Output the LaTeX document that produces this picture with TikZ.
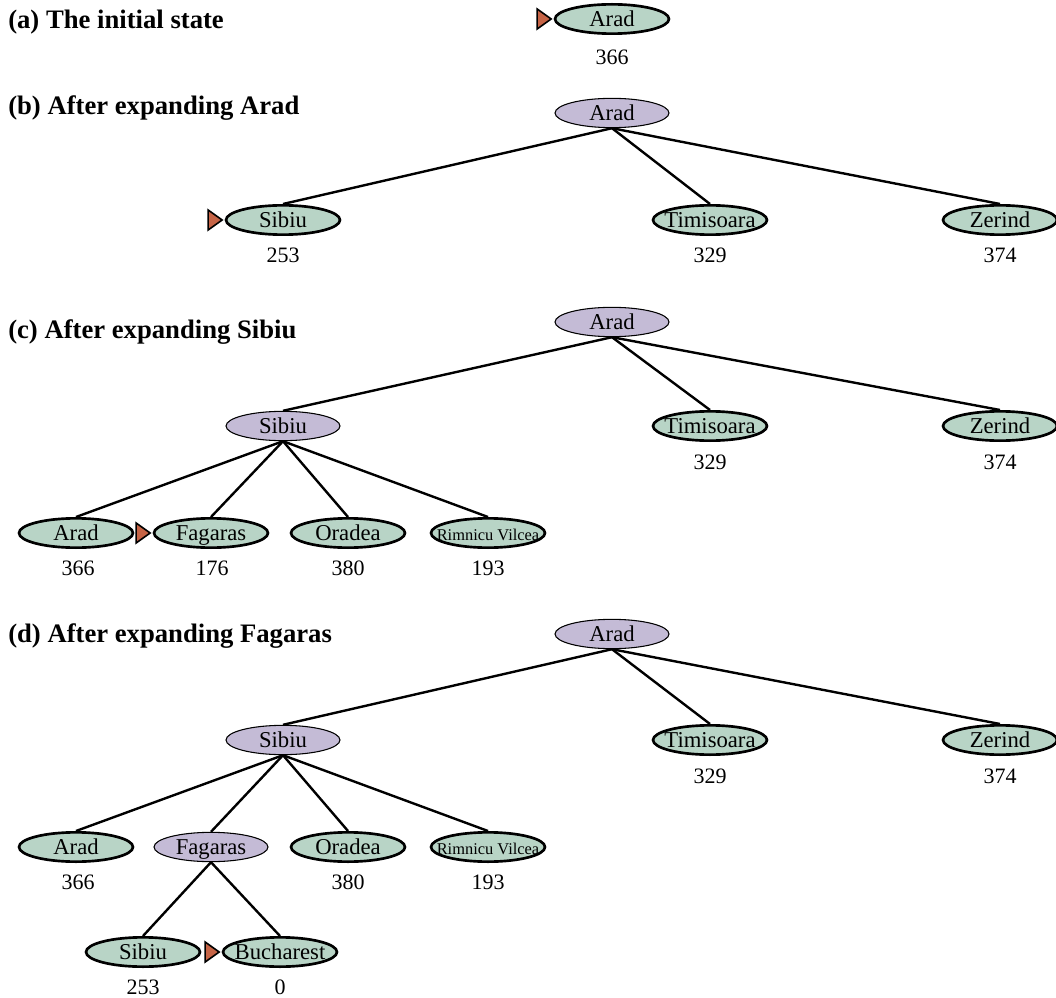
\documentclass[tikz,border=0pt]{standalone}
\usepackage{fontspec}
\setmainfont{Liberation Serif}
\usetikzlibrary{shapes.geometric}
\definecolor{frontier}{RGB}{184,212,198}
\definecolor{expanded}{RGB}{196,187,214}
\definecolor{markerfill}{RGB}{198,100,70}
\tikzset{
  city/.style={ellipse, inner sep=0pt, minimum width=85.5pt, minimum height=22pt, text height=11.2pt, text depth=0pt, font=\fontsize{17}{18}\selectfont},
  open/.style={city, draw=black, line width=2pt, fill=frontier},
  closed/.style={city, draw=black, line width=0.8pt, fill=expanded},
  hval/.style={font=\fontsize{16.5}{18}\selectfont, inner sep=0pt, text height=10.9pt, text depth=0pt},
  title/.style={anchor=west, font=\bfseries\fontsize{20}{22}\selectfont, inner sep=0pt, text height=13.2pt, text depth=0pt},
  edge/.style={line width=1.8pt, draw=black},
  marker/.style={fill=markerfill, draw=black, line width=1.2pt, line join=miter}
}
\newcommand{\nt}[1]{\makebox[20pt]{#1}}
\newcommand{\ntsmall}[1]{\makebox[20pt]{\fontsize{12.3}{13}\selectfont #1}}
\newcommand{\frontiermark}[1]{\path[marker] (#1.west) ++(-2.5,0) -- ++(-14,-10) -- ++(0,20) -- cycle;}
\begin{document}
\begin{tikzpicture}[x=0.75pt,y=-0.75pt]
\useasboundingbox (0,0) rectangle (1056,998);
% (a)
\node[title] (ta) at (8,20) {(a) The initial state};
\node[open] (a1) at (612,19) {\nt{Arad}};
\node[hval] (a1h) at (612,57) {366};
\frontiermark{a1}
% (b)
\node[title] (tb) at (8,106) {(b) After expanding Arad};
\node[closed] (b1) at (612,113) {\nt{Arad}};
\node[open] (b2) at (283,220) {\nt{Sibiu}};
\node[open] (b3) at (710,220) {\nt{Timisoara}};
\node[open] (b4) at (1000,220) {\nt{Zerind}};
\node[hval] at (283,255) {253};
\node[hval] at (710,255) {329};
\node[hval] at (1000,255) {374};
\foreach \c in {b2,b3,b4} \draw[edge] (b1.south) -- (\c.north);
\frontiermark{b2}
% (c)
\node[title] (tc) at (8,330) {(c) After expanding Sibiu};
\node[closed] (c1) at (612,322) {\nt{Arad}};
\node[closed] (c2) at (283,426) {\nt{Sibiu}};
\node[open] (c3) at (710,426) {\nt{Timisoara}};
\node[open] (c4) at (1000,426) {\nt{Zerind}};
\node[hval] at (710,462) {329};
\node[hval] at (1000,462) {374};
\node[open] (c5) at (76,533) {\nt{Arad}};
\node[open] (c6) at (211,533) {\nt{Fagaras}};
\node[open] (c7) at (348,533) {\nt{Oradea}};
\node[open] (c8) at (488,533) {\ntsmall{Rimnicu Vilcea}};
\node[hval] at (78,568) {366};
\node[hval] at (212,568) {176};
\node[hval] at (348,568) {380};
\node[hval] at (488,568) {193};
\foreach \c in {c2,c3,c4} \draw[edge] (c1.south) -- (\c.north);
\foreach \c in {c5,c6,c7,c8} \draw[edge] (c2.south) -- (\c.north);
\frontiermark{c6}
% (d)
\node[title] (td) at (8,634) {(d) After expanding Fagaras};
\node[closed] (d1) at (612,634) {\nt{Arad}};
\node[closed] (d2) at (283,740) {\nt{Sibiu}};
\node[open] (d3) at (710,740) {\nt{Timisoara}};
\node[open] (d4) at (1000,740) {\nt{Zerind}};
\node[hval] at (710,776) {329};
\node[hval] at (1000,776) {374};
\node[open] (d5) at (76,847) {\nt{Arad}};
\node[closed] (d6) at (211,847) {\nt{Fagaras}};
\node[open] (d7) at (348,847) {\nt{Oradea}};
\node[open] (d8) at (488,847) {\ntsmall{Rimnicu Vilcea}};
\node[hval] at (78,882) {366};
\node[hval] at (348,882) {380};
\node[hval] at (488,882) {193};
\node[open] (d9) at (143,952) {\nt{Sibiu}};
\node[open] (d10) at (280,952) {\nt{Bucharest}};
\node[hval] at (143,987) {253};
\node[hval] at (280,987) {0};
\foreach \c in {d2,d3,d4} \draw[edge] (d1.south) -- (\c.north);
\foreach \c in {d5,d6,d7,d8} \draw[edge] (d2.south) -- (\c.north);
\foreach \c in {d9,d10} \draw[edge] (d6.south) -- (\c.north);
\frontiermark{d10}
\end{tikzpicture}
\end{document}
